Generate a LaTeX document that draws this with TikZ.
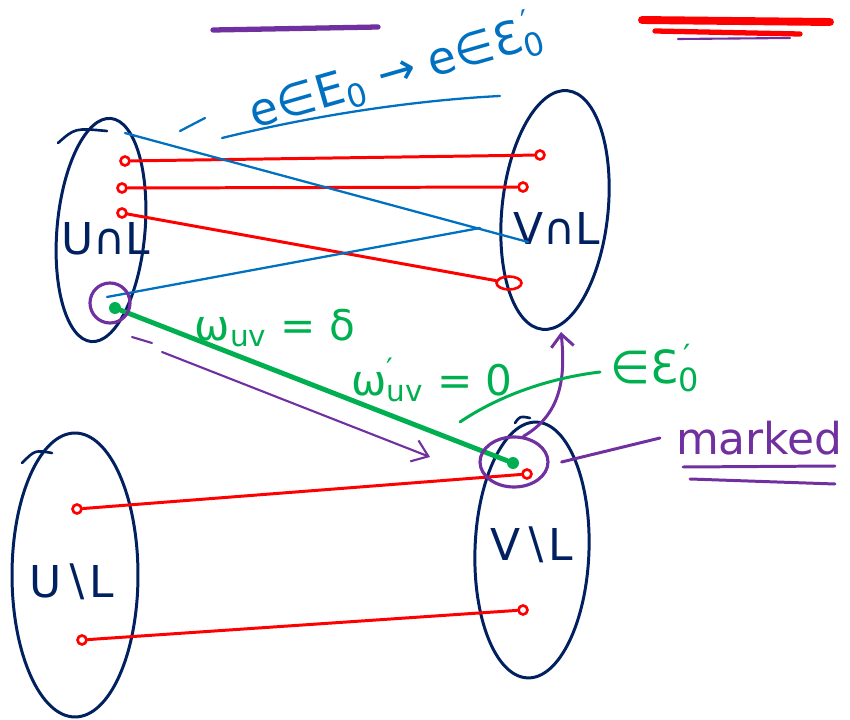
\documentclass[tikz,border=0pt]{standalone}
\usepackage{fontspec}
\setmainfont{DejaVu Sans}
\usepackage{tikz}
\usetikzlibrary{shapes.geometric, arrows.meta, positioning}
\definecolor{inkNavy}{HTML}{002060}
\definecolor{inkBlue}{HTML}{0070C0}
\definecolor{inkRed}{HTML}{FF0000}
\definecolor{inkGreen}{HTML}{00B050}
\definecolor{inkPurple}{HTML}{7030A0}

\begin{document}
\begin{tikzpicture}[
    x=0.02cm, y=-0.02cm,
    set/.style={draw=inkNavy, ellipse, line width=1.7pt, inner sep=0pt},
    setlbl/.style={text=inkNavy, font=\fontsize{25}{25}\selectfont},
    rdot/.style={circle, draw=inkRed, line width=1.5pt, minimum size=0.18cm, inner sep=0pt},
    gdot/.style={circle, fill=inkGreen, minimum size=0.24cm, inner sep=0pt},
    redge/.style={inkRed, line width=1.7pt, line cap=round},
    bedge/.style={inkBlue, line width=1.3pt, line cap=round},
    pen/.style={line width=1.7pt, line cap=round},
    note/.style={font=\fontsize{24}{24}\selectfont},
]
    \useasboundingbox (0, 0) rectangle (850, 720);

    % Sets
    \node[set, minimum width=1.76cm, minimum height=4.48cm, rotate=-5] (UL) at (101, 230) {};
    \node[set, minimum width=2.12cm, minimum height=4.8cm, rotate=-6] (VL) at (555, 210) {};
    \node[set, minimum width=2.52cm, minimum height=5.68cm] (UnL) at (75, 575) {};
    \node[set, minimum width=2.28cm, minimum height=5.12cm, rotate=-2] (VnL) at (532, 550) {};
    \draw[inkNavy, line width=1.5pt, line cap=round] (58, 143) .. controls (75, 128) .. (107, 131);
    \draw[inkNavy, line width=1.5pt, line cap=round] (22, 463) .. controls (35, 450) .. (52, 453);
    \draw[inkNavy, line width=1.5pt, line cap=round] (515, 423) .. controls (520, 416) .. (530, 418);

    \node[setlbl] (ULlbl) at (106, 239) {U∩L};
    \node[setlbl] (VLlbl) at (557, 228) {V∩L};
    \node[setlbl] (UnLlbl) at (72, 582) {U∖L};
    \node[setlbl] (VnLlbl) at (532, 545) {V∖L};

    % Endpoints
    \node[rdot] (u1) at (125, 161) {};
    \node[rdot] (u2) at (122, 188) {};
    \node[rdot] (u3) at (122, 213) {};
    \node[gdot] (u) at (115, 308) {};
    \node[rdot] (v1) at (540, 155) {};
    \node[rdot] (v2) at (523, 187) {};
    \node[rdot, ellipse, minimum width=0.5cm, minimum height=0.26cm] (v3) at (509, 283) {};
    \node[gdot] (v) at (513, 463) {};
    \node[rdot] (v4) at (527, 474) {};
    \node[rdot] (v5) at (523, 610) {};
    \node[rdot] (w1) at (77, 509) {};
    \node[rdot] (w2) at (82, 640) {};
    \coordinate (b1) at (125, 133);
    \coordinate (b2) at (528, 242);
    \coordinate (b3) at (107, 297);
    \coordinate (b4) at (480, 228);

    % Edges
    \draw[redge] (u1) -- (v1);
    \draw[redge] (u2) -- (v2);
    \draw[redge] (u3) -- (v3);
    \draw[redge] (w1) -- (v4);
    \draw[redge] (w2) -- (v5);
    \draw[bedge] (b1) -- (b2);
    \draw[bedge] (b3) -- (b4);
    \draw[inkGreen, line width=2.8pt, line cap=round] (u) -- (v);

    % Marks
    \node[draw=inkPurple, circle, line width=1.8pt, minimum size=0.8cm] (mu) at (110, 303) {};
    \node[draw=inkPurple, ellipse, line width=1.8pt, minimum width=1.36cm, minimum height=1cm] (mv) at (514, 462) {};
    \coordinate (vtip) at (561, 332);
    \draw[pen, inkPurple, -{Straight Barb[length=0.25cm, width=0.45cm]}] (mv.70) .. controls (560, 415) and (566, 380) .. (vtip);
    \draw[inkPurple, line width=1.2pt, line cap=round] (132, 337) -- (152, 343);
    \draw[inkPurple, line width=1.2pt, line cap=round, -{Straight Barb[length=0.3cm, width=0.45cm]}] (162, 352) -- (430, 457);

    \node[note, text=inkPurple, anchor=west, font=\fontsize{25}{25}\selectfont] (mk) at (670, 438) {marked};
    \draw[pen, inkPurple] ([xshift=0.24cm]mv.east) -- ([xshift=-0.2cm]mk.west);
    \draw[pen, inkPurple] (683, 467) -- (835, 466);
    \draw[pen, inkPurple] (690, 479) -- (835, 484);

    % Weights
    \node[note, text=inkGreen] (w) at (275, 328) {ω\textsubscript{uv} = δ};
    \node[note, text=inkGreen] (wp) at (432, 380) {ω\rlap{\textsuperscript{′}}\textsubscript{uv} = 0};
    \draw[pen, inkGreen] (460, 422) .. controls (500, 395) and (550, 378) .. (600, 372);
    \node[note, text=inkGreen, font=\fontsize{26}{26}\selectfont] (inE) at (655, 368) {∈Ɛ\rlap{\textsuperscript{\,′}}\textsubscript{0}};

    % Edge map
    \node[note, text=inkBlue, rotate=16, font=\fontsize{26}{26}\selectfont] (map) at (396, 72) {e∈E\textsubscript{0} → e∈Ɛ\rlap{\textsuperscript{\,′}}\textsubscript{0}};
    \draw[bedge] (180, 131) -- (205, 118);
    \draw[bedge] (222, 138) .. controls (320, 114) and (420, 100) .. (500, 96);

    % Strokes on top
    \draw[inkPurple, line width=3pt, line cap=round] (213, 30) -- (378, 27);
    \draw[inkRed, line width=4.5pt, line cap=round] (642, 20) -- (830, 22);
    \draw[inkRed, line width=3pt, line cap=round] (655, 31) -- (800, 34);
    \draw[inkPurple, line width=1.2pt, line cap=round] (678, 39) -- (790, 38);
\end{tikzpicture}
\end{document}
